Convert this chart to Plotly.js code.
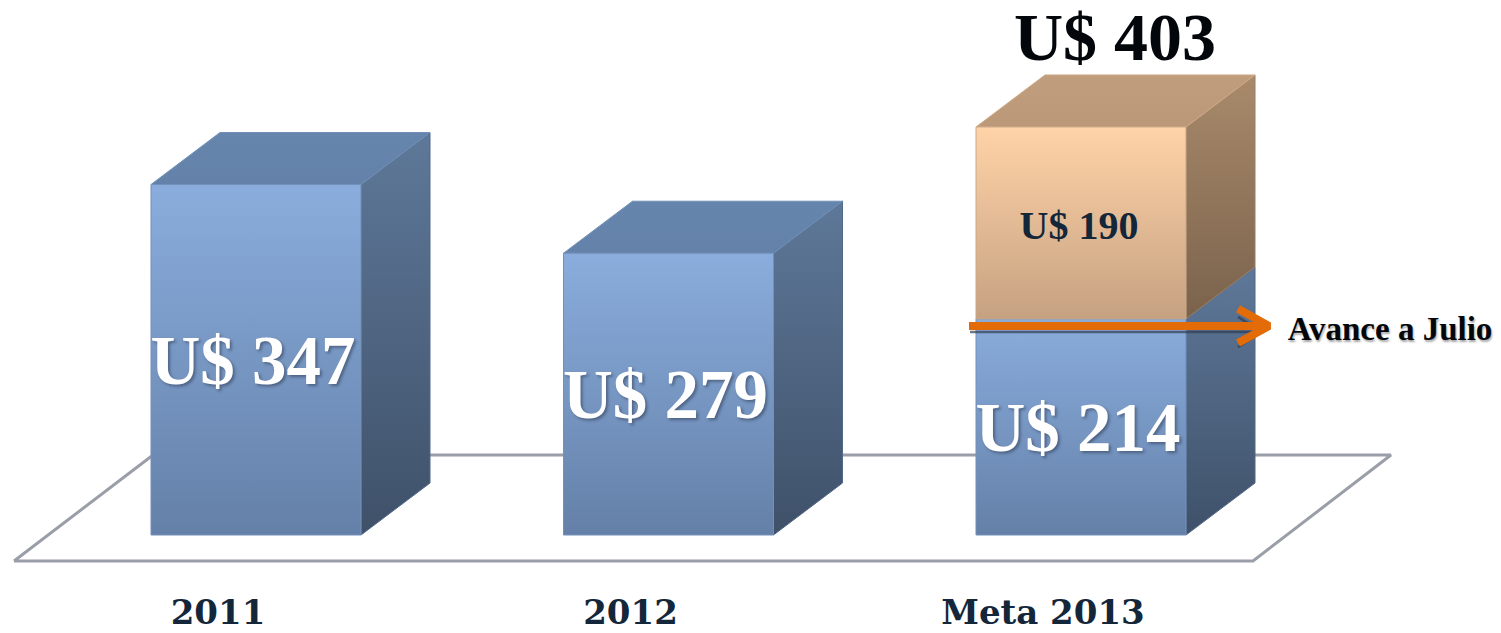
<!DOCTYPE html>
<html><head><meta charset="utf-8">
<script src="https://cdn.plot.ly/plotly-3.0.1.min.js"></script>
<style>html,body{margin:0;padding:0;background:#fff;overflow:hidden}#c{width:1501px;height:633px}</style>
</head><body><div id="c"></div>
<script>
// ---- data
var categories = ['2011', '2012', 'Meta 2013'];
var achieved = [347, 279, 214];
var remaining = [0, 0, 190];
var totalLabel = 403;
var progressLabel = 'Avance a Julio';

// ---- geometry of the pseudo 3-D view, in axis units
var PX = 412.5, PY = 1.01;           // pixels per category / per value
var X0 = 256, Y0 = 535, H = 633, B = 44;
var barW = 210 / PX, dx = 69 / PX, dy = 52 / PY;
function ax(px) { return (px - X0) / PX; }
function ay(py) { return (Y0 - py) / PY; }

var serif = '"Liberation Serif", serif';
var traces = [];

// real stacked bars underneath the shaded faces
traces.push({type:'bar', x:[0,1,2], y:achieved, width:barW, marker:{color:'#7893bc', line:{width:0}}, hoverinfo:'skip'});
traces.push({type:'bar', x:[0,1,2], y:remaining, width:barW, marker:{color:'#e0b894', line:{width:0}}, hoverinfo:'skip'});

// floor
traces.push({type:'scatter', mode:'lines', hoverinfo:'skip',
  x:[ax(14), ax(1253), ax(1391), ax(153), ax(14)],
  y:[ay(561), ay(561), ay(455), ay(455), ay(561)],
  line:{color:'#9a9ea9', width:3}});

function poly(xs, ys, c0, c1, edge) {
  traces.push({type:'scatter', mode:'lines', x:xs.concat(xs[0]), y:ys.concat(ys[0]), fill:'toself',
    hoverinfo:'skip', line:{color:edge, width:1},
    fillgradient:{type:'vertical', colorscale:[[0,c1],[1,c0]]}});
}
var BLUE = {front:['#8aaddd','#6480a8'], side:['#5e7899','#3f5169'], sideEdge:'#51688a', top:['#6685ad','#6482a9'], topEdge:'#7090b8', edge:'#7390b8'};
var PEACH = {front:['#ffd3a8','#c6a181'], side:['#a98a6b','#7a624c'], sideEdge:'#9a7d60', top:['#c09d7c','#bb9877'], topEdge:'#d2ab88', edge:'#c8a888'};

function box(i, lo, hi, s, withTop) {
  var l = i - barW/2, r = i + barW/2;
  poly([r, r+dx, r+dx, r], [lo, lo+dy, hi+dy, hi], s.side[0], s.side[1], s.sideEdge);
  if (withTop) poly([l, r, r+dx, l+dx], [hi, hi, hi+dy, hi+dy], s.top[0], s.top[1], s.topEdge);
  poly([l, r, r, l], [lo, lo, hi, hi], s.front[0], s.front[1], s.edge);
}
categories.forEach(function (c, i) {
  box(i, 0, achieved[i], BLUE, remaining[i] === 0);
  if (remaining[i] > 0) box(i, achieved[i], achieved[i] + remaining[i], PEACH, true);
});

// value labels
traces.push({type:'scatter', mode:'text', hoverinfo:'skip',
  x:[0,1,2].map(function(i){return i - 3/PX;}),
  y:achieved.map(function(v){return v/2 - 7;}),
  text:achieved.map(function(v){return 'U$ '+v;}),
  textposition:'middle center',
  textfont:{family:serif, size:69, color:'#ffffff', weight:700, shadow:'2px 2px 3px rgba(30,40,60,.45)'}});
traces.push({type:'scatter', mode:'text', hoverinfo:'skip',
  x:[2 - 2/PX], y:[achieved[2] + remaining[2]/2 - 6], text:['U$ '+remaining[2]],
  textposition:'middle center',
  textfont:{family:serif, size:40, color:'#14263a', weight:700}});
traces.push({type:'scatter', mode:'text', hoverinfo:'skip',
  x:[2 + 34/PX], y:[totalLabel + dy + 33], text:['U$ '+totalLabel],
  textposition:'middle center',
  textfont:{family:serif, size:68, color:'#03070c', weight:700}});

// progress arrow at the achieved level
var arrowV = achieved[2] - 7;
traces.push({type:'scatter', mode:'lines', hoverinfo:'skip',
  x:[ax(970), ax(1258), null, ax(1238), ax(1262), ax(1238)],
  y:[arrowV-6, arrowV-6, null, arrowV+9, arrowV-6, arrowV-21],
  line:{color:'rgba(50,60,80,.7)', width:2.5}});
traces.push({type:'scatter', mode:'lines', hoverinfo:'skip',
  x:[ax(969), ax(1266), null, ax(1238), ax(1269), ax(1238)],
  y:[arrowV, arrowV, null, arrowV+17, arrowV, arrowV-17],
  line:{color:'#e36c09', width:8}});
traces.push({type:'scatter', mode:'text', hoverinfo:'skip',
  x:[ax(1390)], y:[arrowV-6], text:[progressLabel], textposition:'middle center',
  textfont:{family:serif, size:33, color:'#03070c', weight:700, shadow:'1px 2px 2px rgba(0,0,0,.35)'}});

var layout = {
  width:1501, height:H, showlegend:false, barmode:'stack', bargap:0,
  margin:{l:0, r:0, t:0, b:B}, paper_bgcolor:'#fff', plot_bgcolor:'rgba(0,0,0,0)',
  xaxis:{range:[ax(0), ax(1501)], tickmode:'array',
    tickvals:[0,1,2].map(function(i){return i - 38/PX;}), ticktext:categories,
    showgrid:false, zeroline:false, showline:false, ticks:'',
    tickfont:{family:'"DejaVu Serif", serif', size:34, color:'#14263a', weight:700}},
  yaxis:{range:[ay(H-B), ay(0)], visible:false, showgrid:false, zeroline:false}
};
Plotly.newPlot('c', traces, layout, {displayModeBar:false, staticPlot:true});
</script></body></html>
